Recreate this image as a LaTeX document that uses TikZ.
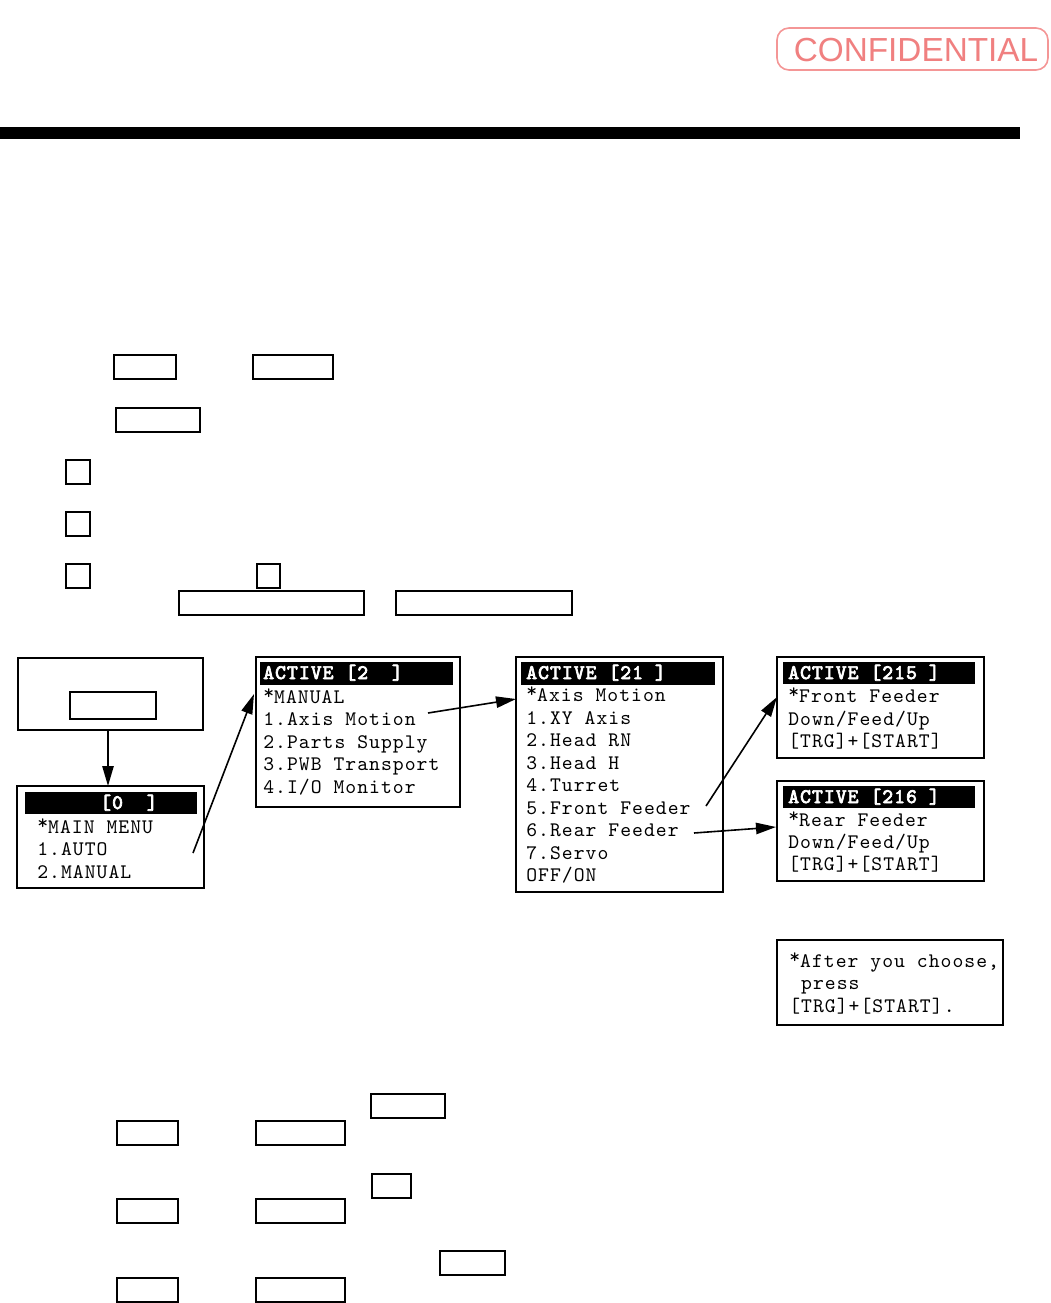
\documentclass[tikz,border=0pt]{standalone}
\usepackage{fontspec}
\setmainfont{Liberation Serif}
\newfontfamily\scrfont{lmmono10-regular.otf}[LetterSpace=5,BoldFont=lmmono10-regular.otf,BoldFeatures={FakeBold=3.5,LetterSpace=5}]
\newfontfamily\confont{Liberation Sans}
\usetikzlibrary{arrows.meta}
\definecolor{conf}{RGB}{240,128,128}
\definecolor{confb}{RGB}{244,150,150}
\newcommand\upast{\raisebox{0.17em}{*}}
\begin{document}
\begin{tikzpicture}[x=0.75pt,y=-0.75pt,
  keybox/.style={line width=1.1pt},
  scr/.style={line width=1.5pt},
  bar/.style={fill=black},
  ln/.style={anchor=base west, inner sep=0pt, font=\scrfont\fontsize{15.5}{16}\selectfont},
  hd/.style={anchor=base west, inner sep=0pt, text=white, font=\scrfont\bfseries\fontsize{15.5}{16}\selectfont},
  arr/.style={line width=1.2pt, -{Triangle[length=15pt,width=8.5pt]}}]
\useasboundingbox (0,0) rectangle (1050,1303);
% confidential stamp
\draw[confb, line width=1.2pt, rounded corners=9pt] (777,28) rectangle (1048,70);
\node[text=conf, font=\confont\fontsize{25}{25}\selectfont, inner sep=0pt] (conf) at (916,50) {CONFIDENTIAL};
% thick rule
\fill (0,127) rectangle (1020,139);
% key boxes top section
\draw[keybox] (114,355) rectangle (176,379);
\draw[keybox] (253,355) rectangle (333,379);
\draw[keybox] (116,408) rectangle (200,432);
\draw[keybox] (66,460) rectangle (90,484);
\draw[keybox] (66,512) rectangle (90,536);
\draw[keybox] (66,564) rectangle (90,588);
\draw[keybox] (257,564) rectangle (280,588);
\draw[keybox] (179,591) rectangle (364,615);
\draw[keybox] (396,591) rectangle (572,615);
% key boxes bottom section
\draw[keybox] (371,1094) rectangle (445,1118);
\draw[keybox] (117,1121) rectangle (178,1145);
\draw[keybox] (256,1121) rectangle (345,1145);
\draw[keybox] (372,1174) rectangle (411,1198);
\draw[keybox] (117,1199) rectangle (178,1223);
\draw[keybox] (256,1199) rectangle (345,1223);
\draw[keybox] (440,1251) rectangle (505,1275);
\draw[keybox] (117,1278) rectangle (178,1302);
\draw[keybox] (256,1278) rectangle (345,1302);
% Box A
\draw[scr] (18,658) rectangle (203,730);
\draw[keybox] (70,692) rectangle (156,719);
\coordinate (aS) at (108,730);
% Box B
\draw[scr] (17,786) rectangle (204,888);
\fill[bar] (25,792) rectangle (197,814);
\coordinate (bN) at (108,786);
\node[hd] (bh) at (100,809) {[0~~]};
\node[ln] (b1) at (37,833) {\upast MAIN MENU};
\node[ln] (b2) at (37,855) {1.AUTO};
\node[ln] (b3) at (37,878) {2.MANUAL};
\coordinate (bOut) at (193,853);
% Box C
\draw[scr] (256,657) rectangle (460,807);
\fill[bar] (260,662) rectangle (453,685);
\coordinate (cIn) at (254,694);
\node[hd] (ch) at (263,679) {ACTIVE [2~~]};
\node[ln] (c1) at (263,703) {\upast MANUAL};
\node[ln] (c2) at (263,725) {1.Axis Motion};
\node[ln] (c3) at (263,748) {2.Parts Supply};
\node[ln] (c4) at (263,770) {3.PWB Transport};
\node[ln] (c5) at (263,793) {4.I/O Monitor};
\coordinate (cOut) at (428,713);
% Box D
\draw[scr] (516,657) rectangle (723,892);
\fill[bar] (521,662) rectangle (715,685);
\coordinate (dIn) at (516,699);
\node[hd] (dh) at (526,679) {ACTIVE [21~]};
\node[ln] (d1) at (526,701) {\upast Axis Motion};
\node[ln] (d2) at (526,724) {1.XY Axis};
\node[ln] (d3) at (526,746) {2.Head RN};
\node[ln] (d4) at (526,769) {3.Head H};
\node[ln] (d5) at (526,791) {4.Turret};
\node[ln] (d6) at (526,814) {5.Front Feeder};
\node[ln] (d7) at (526,836) {6.Rear Feeder};
\node[ln] (d8) at (526,859) {7.Servo};
\node[ln] (d9) at (526,881) {OFF/ON};
\coordinate (dOut1) at (706,806);
\coordinate (dOut2) at (694,833);
% Box E
\draw[scr] (777,657) rectangle (984,758);
\fill[bar] (783,662) rectangle (975,684);
\coordinate (eIn) at (777,697);
\node[hd] (eh) at (788,679) {ACTIVE [215~]};
\node[ln] (e1) at (788,702) {\upast Front Feeder};
\node[ln] (e2) at (788,725) {Down/Feed/Up};
\node[ln] (e3) at (788,747) {[TRG]+[START]};
% Box F
\draw[scr] (777,781) rectangle (984,881);
\fill[bar] (783,786) rectangle (975,808);
\coordinate (fIn) at (776,827);
\node[hd] (fh) at (788,803) {ACTIVE [216~]};
\node[ln] (f1) at (788,826) {\upast Rear Feeder};
\node[ln] (f2) at (788,848) {Down/Feed/Up};
\node[ln] (f3) at (788,870) {[TRG]+[START]};
% Box G
\draw[scr] (777,940) rectangle (1003,1025);
\node[ln] (g1) at (789,967) {\upast After you choose,};
\node[ln] (g2) at (789,989) {~press};
\node[ln] (g3) at (789,1012) {[TRG]+[START].};
% arrows
\draw[arr] (aS) -- (bN);
\draw[arr] (bOut) -- (cIn);
\draw[arr] (cOut) -- (dIn);
\draw[arr] (dOut1) -- (eIn);
\draw[arr] (dOut2) -- (fIn);
\end{tikzpicture}
\end{document}
